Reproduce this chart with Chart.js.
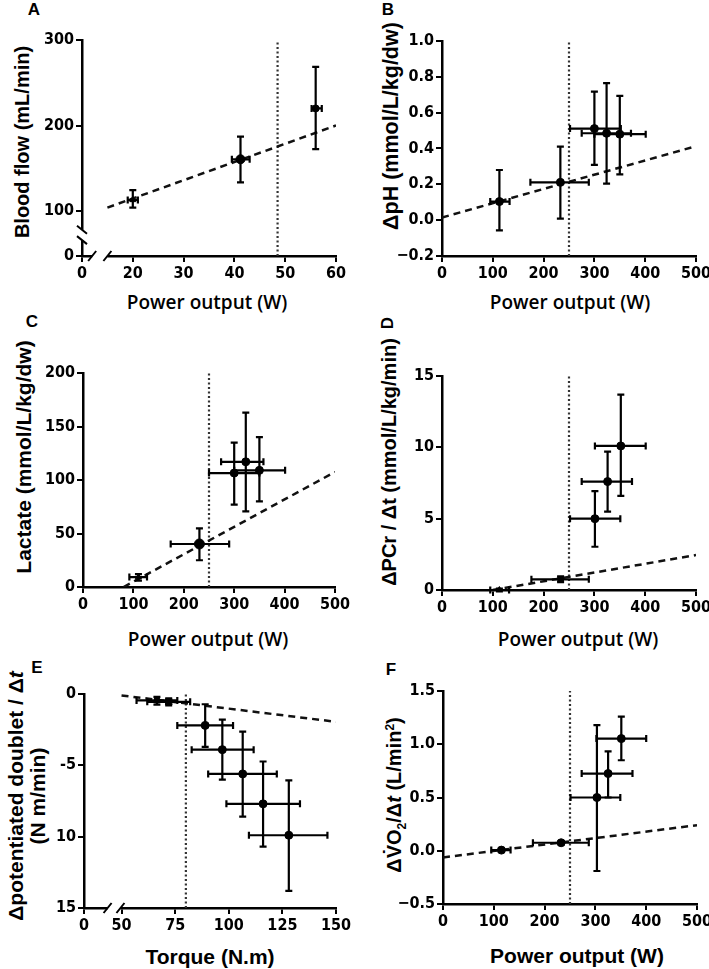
<!DOCTYPE html>
<html>
<head>
<meta charset="utf-8">
<script src="https://cdn.jsdelivr.net/npm/chart.js@4.4.1/dist/chart.umd.min.js"></script>
<style>
  body { margin: 0; background: #fff; }
  #fig { position: relative; width: 709px; height: 969px; overflow: hidden; font-family: "Liberation Sans", Arial, sans-serif; color: #000; }
  #fig canvas { position: absolute; }
  .lbl { position: absolute; white-space: nowrap; transform: translate(-50%, -50%); line-height: 1; }
  .rot { transform: translate(-50%, -50%) rotate(-90deg); }
  .letter { font-weight: bold; font-size: 17px; }
  .xt { font-family: "Open Sans", sans-serif; font-weight: 600; font-size: 19px; }
  .xt2 { font-weight: bold; font-size: 21px; }
  .yt { font-weight: bold; }
</style>
</head>
<body>
<div id="fig">
  <div class="lbl letter" style="left:34px;top:9px">A</div>
  <div class="lbl letter" style="left:388px;top:9px">B</div>
  <div class="lbl letter" style="left:32px;top:321px">C</div>
  <div class="lbl letter rot" style="left:387px;top:323px">D</div>
  <div class="lbl letter" style="left:37px;top:667px">E</div>
  <div class="lbl letter" style="left:391px;top:669px">F</div>

  <div class="lbl xt" style="left:207px;top:302px">Power output (W)</div>
  <div class="lbl xt" style="left:570px;top:302px">Power output (W)</div>
  <div class="lbl xt" style="left:208px;top:639px">Power output (W)</div>
  <div class="lbl xt" style="left:578px;top:639px">Power output (W)</div>
  <div class="lbl xt2" style="left:210px;top:956px">Torque (N.m)</div>
  <div class="lbl xt2" style="left:577px;top:955px">Power output (W)</div>

  <div class="lbl yt rot" style="left:22px;top:142px;font-size:20px">Blood flow (mL/min)</div>
  <div class="lbl yt rot" style="left:392px;top:126px;font-size:21.5px">ΔpH (mmol/L/kg/dw)</div>
  <div class="lbl yt rot" style="left:23px;top:457px;font-size:21px">Lactate (mmol/L/kg/dw)</div>
  <div class="lbl yt rot" style="left:389px;top:462px;font-size:20px">ΔPCr / Δt (mmol/L/kg/min)</div>
  <div class="lbl yt rot" style="left:27px;top:796px;font-size:21px;text-align:center;line-height:1.05">Δpotentiated doublet / Δ<i>t</i><br>(N m/min)</div>
  <div class="lbl yt rot" style="left:396px;top:795px;font-size:20px">ΔV̇O<sub style="font-size:0.6em">2</sub>/Δ<i>t</i> (L/min<sup style="font-size:0.6em">2</sup>)</div>
</div>

<script>
// ---- data ----
// A: blood flow
const aX = [20, 41.2, 56];
const aY = [113, 160.5, 220];
const aXLo = [19, 39.5, 55.2];
const aXHi = [21, 43, 57.2];
const aYLo = [104, 133.5, 172.5];
const aYHi = [124.5, 187, 268.5];
const aFitX = [15, 60];
const aFitY = [104, 200];
const aThreshold = 48.5;
const aXTicks = [10, 20, 30, 40, 50, 60];
const aXLabels = ['0', '20', '30', '40', '50', '60'];
const aYTicks = [47.4, 100, 200, 300];
const aYLabels = ['0', '100', '200', '300'];

// B: delta pH
const bX = [113, 233, 300, 324, 350];
const bY = [0.104, 0.211, 0.511, 0.485, 0.48];
const bXLo = [95, 174, 252, 275, 300];
const bXHi = [133, 289, 352, 372, 401];
const bYLo = [-0.057, 0.009, 0.309, 0.204, 0.256];
const bYHi = [0.28, 0.411, 0.718, 0.765, 0.694];
const bFitX = [0, 500];
const bFitY = [0.015, 0.413];
const bThreshold = 250;

// C: lactate
const cX = [110, 231, 300, 323, 350];
const cY = [9.3, 40.2, 106.5, 117, 109];
const cXLo = [92, 174, 250, 274, 300];
const cXHi = [127, 290, 350, 358, 401];
const cYLo = [6, 25, 77, 70.7, 80];
const cYHi = [12, 54.8, 135, 163, 140];
const cFitX = [80.6, 500];
const cFitY = [0, 107.5];
const cThreshold = 250;

// D: PCr breakdown rate
const dX = [113, 233.5, 301, 326, 352];
const dY = [0, 0.75, 5, 7.6, 10.1];
const dXLo = [95, 176, 252, 275, 301];
const dXHi = [132, 289, 351, 374, 401];
const dYLo = [-0.1, 0.55, 3.03, 5.5, 6.6];
const dYHi = [0.1, 0.95, 6.93, 9.7, 13.7];
const dFitX = [100, 500];
const dFitY = [0, 2.45];
const dThreshold = 250;

// E: potentiated doublet vs torque
const eX = [66.5, 72, 89, 97, 106.5, 116, 128];
const eY = [-0.45, -0.55, -2.2, -3.9, -5.6, -7.7, -9.9];
const eXLo = [57, 62, 76, 82.7, 90.4, 98.9, 109.4];
const eXHi = [76, 82, 102, 111.6, 122.4, 133.2, 146];
const eYLo = [-0.75, -0.8, -3.7, -6.0, -8.6, -10.7, -13.8];
const eYHi = [-0.2, -0.3, -0.72, -1.8, -2.64, -4.73, -6.06];
const eFitX = [50, 150];
const eFitY = [-0.1, -1.95];
const eThreshold = 80;
const eXTicks = [32.5, 50, 75, 100, 125, 150];
const eXLabels = ['0', '50', '75', '100', '125', '150'];
const eYTicks = [-15, -10, -5, 0];
const eYLabels = ['15', '10', '-5', '0'];

// F: VO2 slope
const fX = [115, 232.5, 303, 325, 351];
const fY = [0.006, 0.075, 0.5, 0.725, 1.053];
const fXLo = [95, 177, 251, 273, 302];
const fXHi = [133, 287, 349, 373, 400];
const fYLo = [-0.01, 0.06, -0.19, 0.5, 0.85];
const fYHi = [0.02, 0.09, 1.18, 0.934, 1.26];
const fFitX = [0, 500];
const fFitY = [-0.0625, 0.24];
const fThreshold = 250;

const powerTicks = [0, 100, 200, 300, 400, 500];

// draws x/y error bars with caps, positions come from the chart scales
const errorBars = {
    id: 'errorBars',
    afterDatasetsDraw(chart) {
        const ctx = chart.ctx;
        const xs = chart.scales.x, ys = chart.scales.y;
        const cap = 3.5;
        chart.data.datasets.forEach(ds => {
            if (!ds.err) return;
            ctx.save();
            ctx.strokeStyle = '#000';
            ctx.lineWidth = 2.2;
            ds.data.forEach((p, i) => {
                const px = xs.getPixelForValue(p.x), py = ys.getPixelForValue(p.y);
                const x0 = xs.getPixelForValue(ds.err.xLo[i]), x1 = xs.getPixelForValue(ds.err.xHi[i]);
                const y0 = ys.getPixelForValue(ds.err.yLo[i]), y1 = ys.getPixelForValue(ds.err.yHi[i]);
                ctx.beginPath();
                ctx.moveTo(x0, py); ctx.lineTo(x1, py);
                ctx.moveTo(x0, py - cap); ctx.lineTo(x0, py + cap);
                ctx.moveTo(x1, py - cap); ctx.lineTo(x1, py + cap);
                ctx.moveTo(px, y0); ctx.lineTo(px, y1);
                ctx.moveTo(px - cap, y0); ctx.lineTo(px + cap, y0);
                ctx.moveTo(px - cap, y1); ctx.lineTo(px + cap, y1);
                ctx.stroke();
            });
            ctx.restore();
        });
    }
};

// axis break marks (gap in the axis line plus two slashes)
const axisBreaks = {
    id: 'axisBreaks',
    afterDraw(chart, args, opts) {
        const ctx = chart.ctx;
        const area = chart.chartArea;
        ctx.save();
        ctx.lineWidth = 2;
        ctx.strokeStyle = '#000';
        if (opts.x) {
            const p0 = chart.scales.x.getPixelForValue(opts.x[0]);
            const p1 = chart.scales.x.getPixelForValue(opts.x[1]);
            ctx.fillStyle = '#fff';
            ctx.fillRect(p0, area.bottom - 3, p1 - p0, 6);
            ctx.beginPath();
            [p0, p1].forEach(p => { ctx.moveTo(p - 4, area.bottom + 5); ctx.lineTo(p + 4, area.bottom - 5); });
            ctx.stroke();
        }
        if (opts.y) {
            const p0 = chart.scales.y.getPixelForValue(opts.y[0]);
            const p1 = chart.scales.y.getPixelForValue(opts.y[1]);
            ctx.fillStyle = '#fff';
            ctx.fillRect(area.left - 3, p1, 6, p0 - p1);
            ctx.beginPath();
            [p0, p1].forEach(p => { ctx.moveTo(area.left - 5, p - 4); ctx.lineTo(area.left + 5, p + 4); });
            ctx.stroke();
        }
        ctx.restore();
    }
};

const tickFont = { family: '"Liberation Sans Narrow", "DejaVu Sans Condensed", "Liberation Sans", Arial, sans-serif', size: 16, weight: 'bold' };

function axis(min, max, ticks, labels, fit) {
    return {
        type: 'linear',
        min: min,
        max: max,
        afterBuildTicks: s => { s.ticks = ticks.map(v => ({ value: v })); },
        afterFit: fit,
        ticks: { autoSkip: false, color: '#000', font: tickFont, padding: 2, callback: (v, i) => labels[i] },
        grid: { display: true, drawOnChartArea: false, drawTicks: true, tickLength: 6, color: '#000', lineWidth: 2 },
        border: { display: true, color: '#000', width: 2.5 }
    };
}

function panel(p) {
    const [bx, by, bw, bh] = p.box;
    const [l, r, t, b] = p.area;
    const canvas = document.createElement('canvas');
    canvas.width = bw;
    canvas.height = bh;
    canvas.style.left = bx + 'px';
    canvas.style.top = by + 'px';
    document.getElementById('fig').appendChild(canvas);

    const points = p.x.map((x, i) => ({ x: x, y: p.y[i] }));
    return new Chart(canvas, {
        type: 'scatter',
        data: {
            datasets: [{
                data: points,
                pointStyle: p.style || 'circle',
                pointRadius: p.radius || 4,
                backgroundColor: '#000',
                borderColor: '#000',
                borderWidth: 1,
                err: p.err
            }, {
                data: [{ x: p.fitX[0], y: p.fitY[0] }, { x: p.fitX[1], y: p.fitY[1] }],
                showLine: true,
                pointRadius: 0,
                borderColor: '#111',
                borderWidth: 2.5,
                borderDash: [7, 5]
            }, {
                data: [{ x: p.threshold, y: p.yMin }, { x: p.threshold, y: p.yMax }],
                showLine: true,
                pointRadius: 0,
                borderColor: '#333',
                borderWidth: 2.2,
                borderDash: [2, 2.5]
            }]
        },
        options: {
            responsive: false,
            animation: false,
            devicePixelRatio: 1,
            layout: { padding: { left: 0, top: t - by, right: bx + bw - r, bottom: 0 } },
            scales: {
                x: axis(p.xMin, p.xMax, p.xTicks, p.xLabels, s => { s.height = by + bh - b; s.paddingLeft = 0; s.paddingRight = 0; }),
                y: axis(p.yMin, p.yMax, p.yTicks, p.yLabels, s => { s.width = l - bx; s.paddingTop = 0; s.paddingBottom = 0; })
            },
            plugins: {
                legend: { display: false },
                tooltip: { enabled: false },
                axisBreaks: p.breaks || {}
            }
        },
        plugins: [errorBars, axisBreaks]
    });
}

const powerLabels = powerTicks.map(String);

panel({
    box: [0, 0, 354, 310], area: [82, 336, 40, 256],
    x: aX, y: aY, err: { xLo: aXLo, xHi: aXHi, yLo: aYLo, yHi: aYHi },
    style: ['triangle', 'circle', 'circle'], radius: [3.5, 4.5, 3.5],
    fitX: aFitX, fitY: aFitY, threshold: aThreshold,
    xMin: 10, xMax: 60, xTicks: aXTicks, xLabels: aXLabels,
    yMin: 47.4, yMax: 300, yTicks: aYTicks, yLabels: aYLabels,
    breaks: { x: [12, 15], y: [66, 78] }
});

panel({
    box: [354, 0, 355, 310], area: [442, 696, 41, 256],
    x: bX, y: bY, err: { xLo: bXLo, xHi: bXHi, yLo: bYLo, yHi: bYHi },
    fitX: bFitX, fitY: bFitY, threshold: bThreshold,
    xMin: 0, xMax: 500, xTicks: powerTicks, xLabels: powerLabels,
    yMin: -0.2, yMax: 1.0, yTicks: [-0.2, 0, 0.2, 0.4, 0.6, 0.8, 1.0],
    yLabels: ['\u22120.2', '0.0', '0.2', '0.4', '0.6', '0.8', '1.0']
});

panel({
    box: [0, 310, 354, 310], area: [83, 335, 373, 587],
    x: cX, y: cY, err: { xLo: cXLo, xHi: cXHi, yLo: cYLo, yHi: cYHi },
    style: ['triangle', 'circle', 'circle', 'circle', 'circle'], radius: [3.5, 5, 4, 4, 4],
    fitX: cFitX, fitY: cFitY, threshold: cThreshold,
    xMin: 0, xMax: 500, xTicks: powerTicks, xLabels: powerLabels,
    yMin: 0, yMax: 200, yTicks: [0, 50, 100, 150, 200], yLabels: ['0', '50', '100', '150', '200']
});

panel({
    box: [354, 310, 355, 310], area: [442, 696, 376, 590],
    x: dX, y: dY, err: { xLo: dXLo, xHi: dXHi, yLo: dYLo, yHi: dYHi },
    style: ['triangle', 'rect', 'circle', 'circle', 'circle'], radius: [3.5, 4, 4, 4, 4],
    fitX: dFitX, fitY: dFitY, threshold: dThreshold,
    xMin: 0, xMax: 500, xTicks: powerTicks, xLabels: powerLabels,
    yMin: 0, yMax: 15, yTicks: [0, 5, 10, 15], yLabels: ['0', '5', '10', '15']
});

panel({
    box: [0, 620, 354, 349], area: [84, 336, 694, 908],
    x: eX, y: eY, err: { xLo: eXLo, xHi: eXHi, yLo: eYLo, yHi: eYHi },
    style: ['rect', 'rect', 'circle', 'circle', 'circle', 'circle', 'circle'], radius: [3.5, 4.5, 4, 4, 4, 4, 4],
    fitX: eFitX, fitY: eFitY, threshold: eThreshold,
    xMin: 32.5, xMax: 150, xTicks: eXTicks, xLabels: eXLabels,
    yMin: -15, yMax: 0, yTicks: eYTicks, yLabels: eYLabels,
    breaks: { x: [43.5, 49.5] }
});

panel({
    box: [354, 620, 355, 349], area: [443, 697, 691, 904],
    x: fX, y: fY, err: { xLo: fXLo, xHi: fXHi, yLo: fYLo, yHi: fYHi },
    fitX: fFitX, fitY: fFitY, threshold: fThreshold,
    xMin: 0, xMax: 500, xTicks: powerTicks, xLabels: powerLabels,
    yMin: -0.5, yMax: 1.5, yTicks: [-0.5, 0, 0.5, 1.0, 1.5],
    yLabels: ['\u22120.5', '0.0', '0.5', '1.0', '1.5']
});
</script>
</body>
</html>
